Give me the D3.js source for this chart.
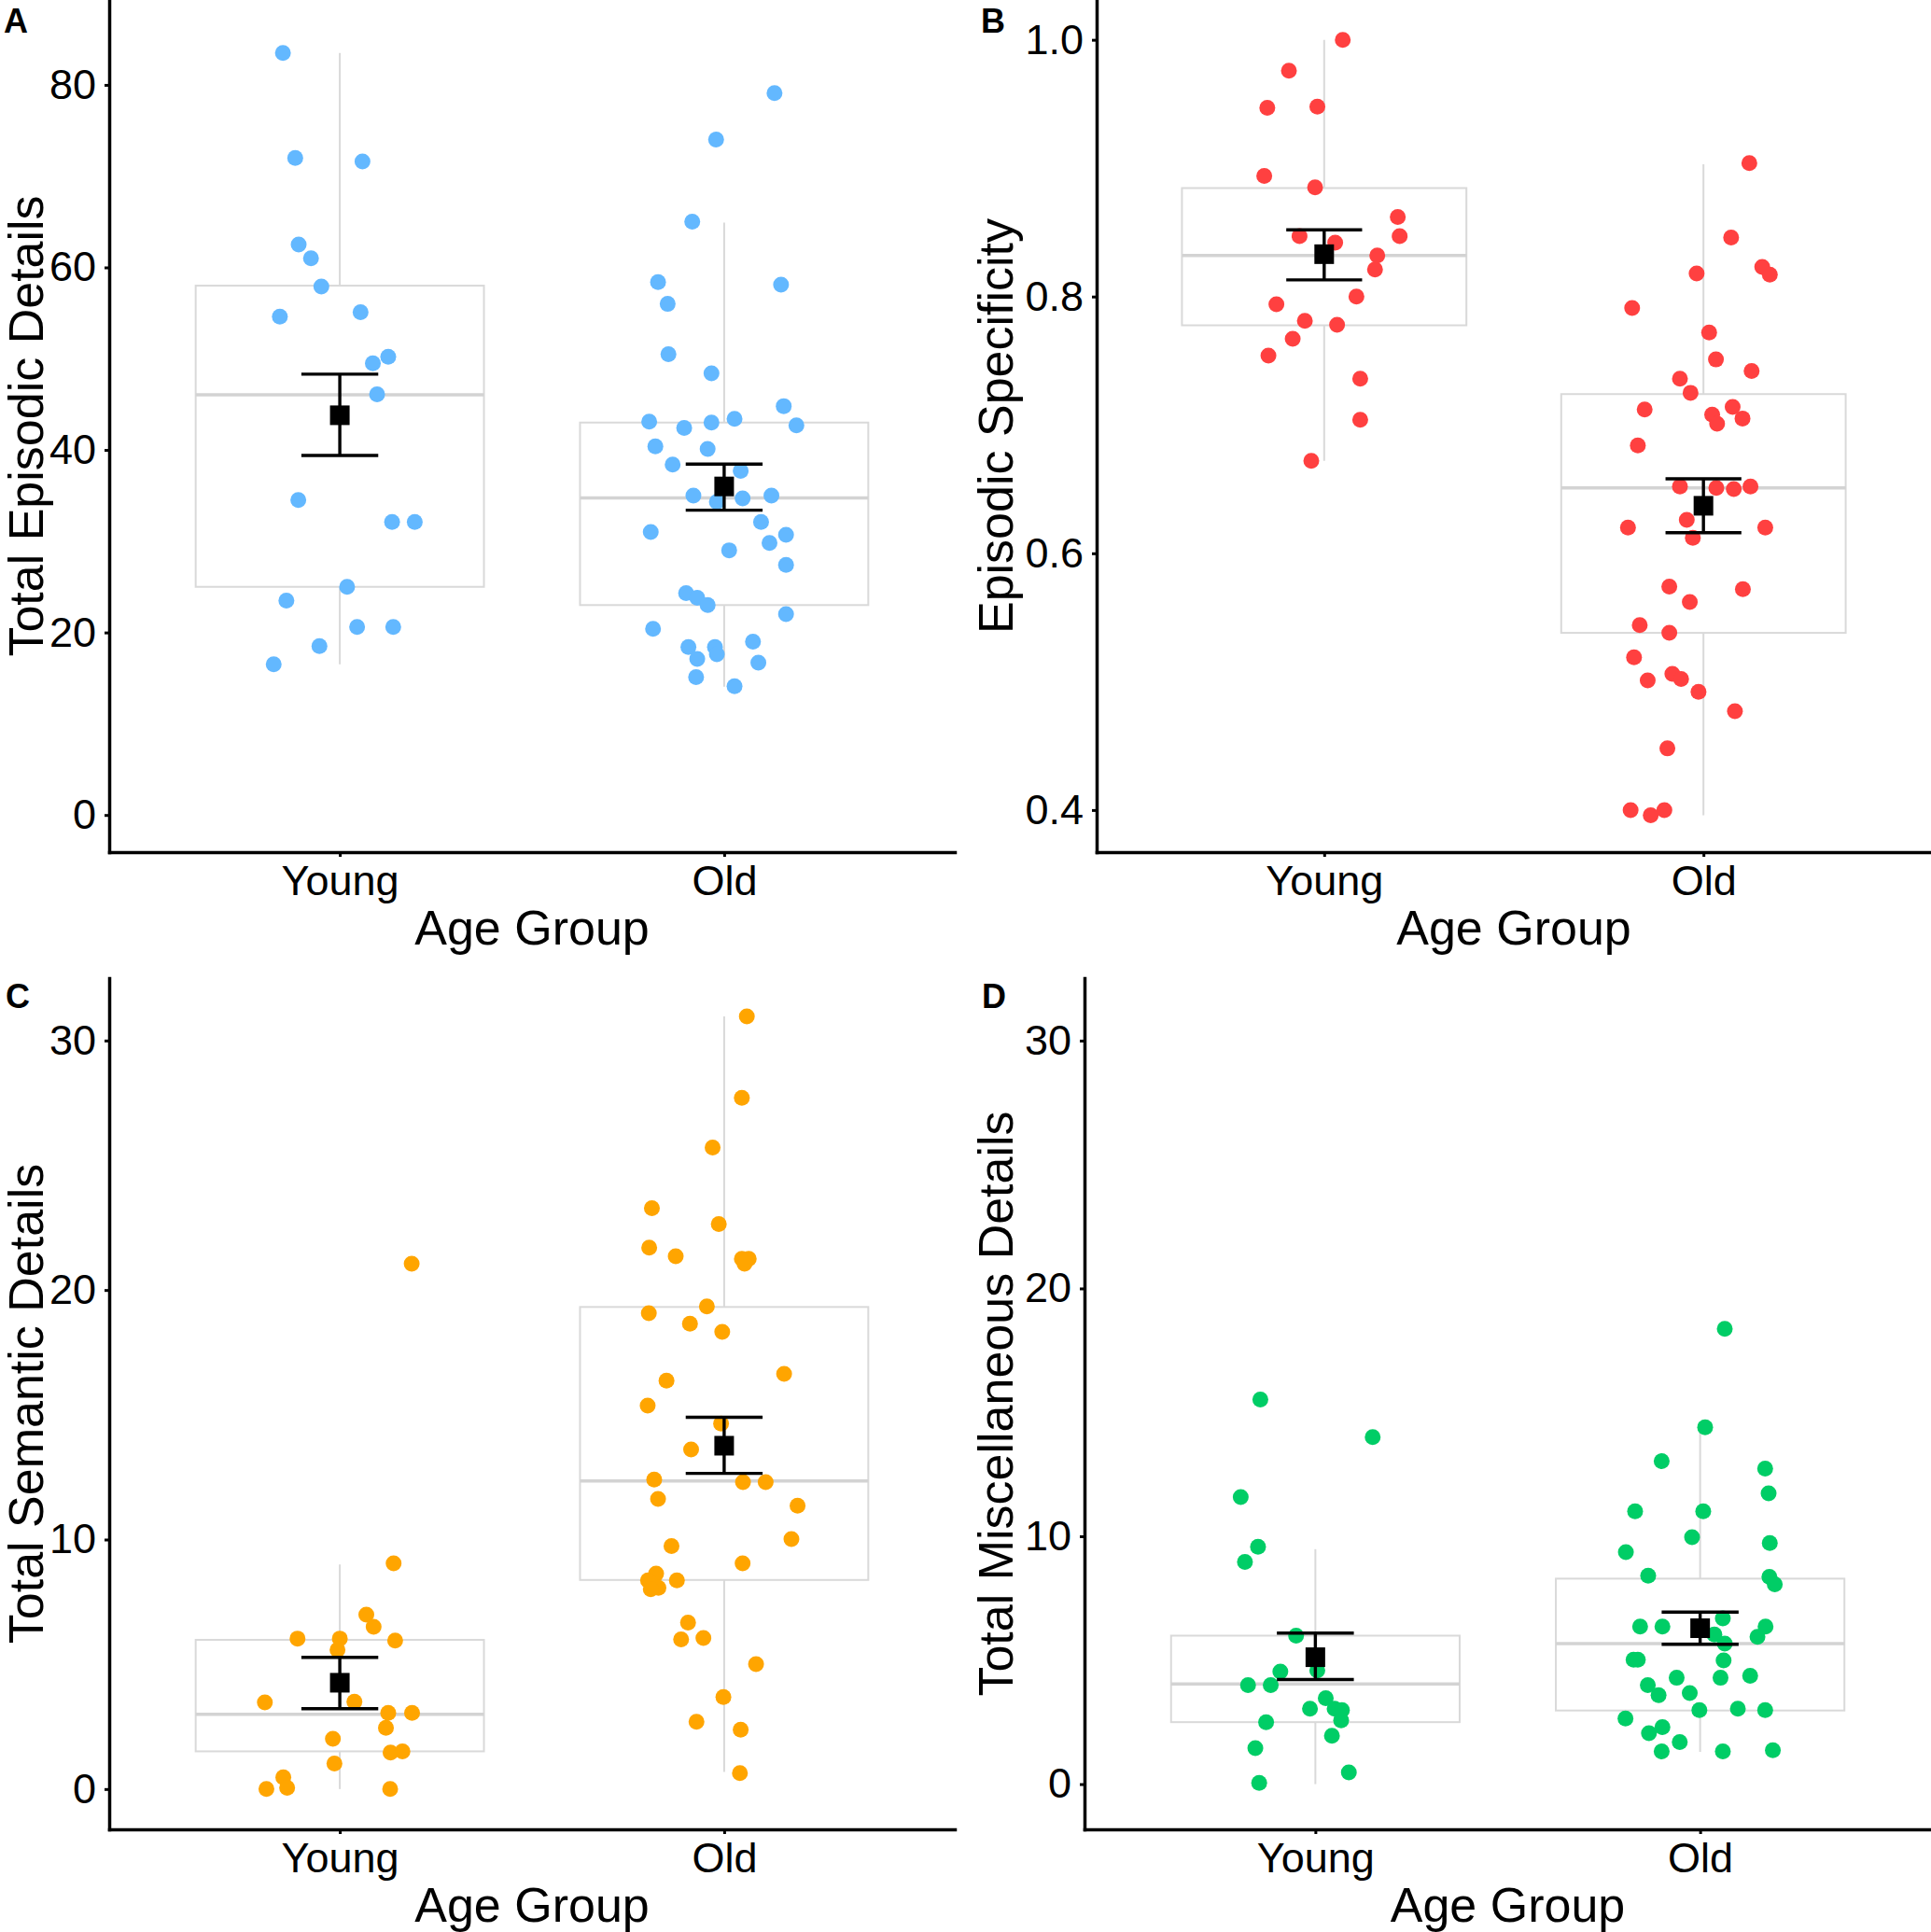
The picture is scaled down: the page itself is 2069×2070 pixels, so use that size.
<!DOCTYPE html>
<html>
<head>
<meta charset="utf-8">
<script src="https://cdn.jsdelivr.net/npm/d3@7"></script>
<style>
  body { margin: 0; background: #fff; }
  svg text { font-family: "Liberation Sans", Arial, sans-serif; fill: #000; }
</style>
</head>
<body>
<svg id="chart" width="2069" height="2070"></svg>
<script>
const groups = ["Young", "Old"];

// each point: [value, horizontal jitter in group units]
// A: total episodic details
const episodicYoung = [[83.5,-0.148],[72.0,-0.116],[71.6,0.059],[62.5,-0.107],[61.0,-0.075],[57.9,-0.048],[54.6,-0.156],[55.1,0.054],[50.2,0.126],[49.5,0.086],[46.1,0.097],[34.5,-0.108],[32.1,0.136],[32.1,0.195],[25.0,0.019],[23.5,-0.139],[20.6,0.045],[20.6,0.139],[18.5,-0.053],[16.5,-0.172]];
const episodicOld = [[79.1,0.131],[74.0,-0.021],[65.0,-0.083],[58.4,-0.172],[58.1,0.148],[56.0,-0.147],[50.5,-0.145],[48.4,-0.033],[44.8,0.155],[43.1,-0.195],[42.4,-0.104],[43.0,-0.033],[43.4,0.027],[42.7,0.188],[40.4,-0.179],[40.1,-0.043],[38.4,-0.134],[37.7,0.043],[35.0,-0.080],[34.3,-0.019],[34.7,0.048],[35.0,0.123],[32.1,0.096],[31.0,-0.191],[30.7,0.161],[29.8,0.118],[29.0,0.013],[27.4,0.161],[24.3,-0.099],[23.8,-0.070],[23.0,-0.043],[22.0,0.161],[20.4,-0.185],[18.4,-0.093],[18.4,-0.024],[19.0,0.075],[17.6,-0.019],[17.1,-0.070],[16.7,0.089],[15.1,-0.073],[14.1,0.027]];
const episodicBox = [{lo:16.5,q1:25.0,med:46.05,q3:58.0,hi:83.5},{lo:14.05,q1:23.0,med:34.75,q3:43.0,hi:64.9}];
const episodicMean = [{mean:43.8,lo:39.4,hi:48.3},{mean:36.0,lo:33.4,hi:38.45}];

// B: episodic specificity
const specYoung = [[1.000,0.049],[0.976,-0.093],[0.947,-0.150],[0.948,-0.018],[0.894,-0.158],[0.885,-0.024],[0.862,0.194],[0.847,-0.065],[0.842,0.029],[0.847,0.199],[0.832,0.140],[0.821,0.134],[0.800,0.085],[0.794,-0.126],[0.781,-0.051],[0.778,0.034],[0.767,-0.083],[0.754,-0.147],[0.736,0.095],[0.704,0.095],[0.672,-0.034]];
const specOld = [[0.904,0.121],[0.846,0.073],[0.818,-0.018],[0.823,0.155],[0.817,0.175],[0.791,-0.188],[0.772,0.015],[0.751,0.033],[0.742,0.127],[0.736,-0.062],[0.725,-0.034],[0.712,-0.155],[0.708,0.023],[0.714,0.077],[0.705,0.103],[0.701,0.036],[0.684,-0.173],[0.652,-0.062],[0.651,0.034],[0.650,0.080],[0.652,0.124],[0.620,-0.199],[0.626,-0.044],[0.612,-0.028],[0.620,0.163],[0.574,-0.090],[0.572,0.104],[0.562,-0.036],[0.544,-0.168],[0.538,-0.090],[0.519,-0.183],[0.501,-0.147],[0.506,-0.082],[0.502,-0.059],[0.492,-0.013],[0.477,0.083],[0.448,-0.095],[0.400,-0.192],[0.396,-0.139],[0.400,-0.103]];
const specBox = [{lo:0.672,q1:0.7776,med:0.832,q3:0.8845,hi:1.0},{lo:0.396,q1:0.538,med:0.651,q3:0.724,hi:0.903}];
const specMean = [{mean:0.833,lo:0.813,hi:0.852},{mean:0.637,lo:0.616,hi:0.658}];

// C: total semantic details
const semanticYoung = [[21.05,0.187],[9.05,0.140],[6.99,0.069],[6.50,0.088],[6.03,-0.110],[6.03,0.000],[5.95,0.144],[5.58,-0.006],[3.47,-0.195],[3.50,0.038],[3.05,0.126],[3.05,0.188],[2.45,0.120],[2.01,-0.018],[1.46,0.132],[1.51,0.163],[1.02,-0.014],[0.47,-0.147],[0,-0.191],[0.05,-0.137],[0,0.131]];
const semanticOld = [[30.97,0.059],[27.70,0.046],[25.71,-0.030],[23.28,-0.188],[22.64,-0.014],[21.70,-0.195],[21.35,-0.126],[21.25,0.046],[21.25,0.064],[21.05,0.053],[19.07,-0.196],[19.34,-0.045],[18.65,-0.089],[18.32,-0.005],[16.64,0.156],[16.37,-0.150],[15.37,-0.199],[14.65,-0.008],[13.61,-0.086],[12.40,-0.182],[12.30,0.049],[12.30,0.108],[11.63,-0.172],[11.36,0.191],[10.02,0.175],[9.74,-0.137],[9.05,0.048],[8.63,-0.177],[8.36,-0.123],[8.36,-0.198],[8.06,-0.171],[8.01,-0.191],[6.67,-0.094],[6.00,-0.112],[6.05,-0.054],[5.01,0.083],[3.69,-0.002],[2.70,-0.072],[2.38,0.043],[0.64,0.041]];
const semanticBox = [{lo:0,q1:1.51,med:3.0,q3:5.98,hi:9.0},{lo:0.69,q1:8.38,med:12.35,q3:19.32,hi:30.97}];
const semanticMean = [{mean:4.26,lo:3.22,hi:5.28},{mean:13.76,lo:12.65,hi:14.9}];

// D: total miscellaneous details
const miscYoung = [[15.52,-0.143],[14.00,0.149],[11.58,-0.194],[9.58,-0.149],[8.96,-0.183],[5.99,-0.050],[4.54,-0.091],[4.59,0.005],[3.99,-0.175],[3.99,-0.116],[3.47,0.027],[3.04,-0.014],[3.04,0.050],[2.99,0.069],[2.50,-0.128],[2.57,0.067],[1.95,0.043],[1.45,-0.156],[0.47,0.087],[0.05,-0.146]];
const miscOld = [[18.37,0.064],[14.40,0.013],[13.03,-0.100],[12.73,0.169],[11.73,0.178],[11.01,-0.169],[11.01,0.008],[9.96,-0.021],[9.73,0.181],[9.36,-0.193],[8.41,-0.135],[8.36,0.180],[8.06,0.194],[6.36,-0.156],[6.36,-0.098],[6.69,0.059],[6.36,0.170],[6.04,0.037],[5.94,0.149],[5.67,0.064],[5.02,-0.173],[5.02,-0.162],[4.99,0.061],[4.29,-0.061],[4.29,0.053],[4.37,0.130],[3.99,-0.136],[3.59,-0.108],[3.67,-0.027],[2.99,-0.002],[3.04,0.098],[2.99,0.169],[2.65,-0.194],[2.05,-0.133],[2.30,-0.098],[1.70,-0.053],[1.32,-0.100],[1.32,0.059],[1.37,0.189]];
const miscBox = [{lo:0,q1:2.50,med:4.04,q3:5.99,hi:9.48},{lo:1.30,q1:2.97,med:5.67,q3:8.29,hi:14.22}];
const miscMean = [{mean:5.12,lo:4.22,hi:6.09},{mean:6.29,lo:5.64,hi:6.94}];

const svg = d3.select("#chart");

// layout of the four panels
const panels = [
  { letter: "A", lx: 4, ly: 35, title: "Total Episodic Details", titleX: 46,
    left: 117, right: 1023, top: 0, bottom: 913, yDomain: [-4.07, 89.3],
    ticks: [0, 20, 40, 60, 80], fmt: d3.format("d"), color: "#63B8FF",
    young: episodicYoung, old: episodicOld, box: episodicBox, mean: episodicMean },
  { letter: "B", lx: 1051, ly: 35, title: "Episodic Specificity", titleX: 1085,
    left: 1175, right: 2069, top: 0, bottom: 913, yDomain: [0.3672, 1.031],
    ticks: [0.4, 0.6, 0.8, 1.0], fmt: d3.format(".1f"), color: "#FF4040",
    young: specYoung, old: specOld, box: specBox, mean: specMean },
  { letter: "C", lx: 6, ly: 1080, title: "Total Semantic Details", titleX: 46,
    left: 117, right: 1023, top: 1048, bottom: 1960, yDomain: [-1.615, 32.5],
    ticks: [0, 10, 20, 30], fmt: d3.format("d"), color: "#FFA500",
    young: semanticYoung, old: semanticOld, box: semanticBox, mean: semanticMean },
  { letter: "D", lx: 1052, ly: 1080, title: "Total Miscellaneous Details", titleX: 1085,
    left: 1162, right: 2069, top: 1048, bottom: 1960, yDomain: [-1.825, 32.52],
    ticks: [0, 10, 20, 30], fmt: d3.format("d"), color: "#00CD66",
    young: miscYoung, old: miscOld, box: miscBox, mean: miscMean }
];

function drawPanel(p) {
  let g = svg.append("g");
  let x = d3.scaleLinear().domain([0.4, 2.6]).range([p.left, p.right]);
  let y = d3.scaleLinear().domain(p.yDomain).range([p.bottom, p.top]);

  // boxplots (behind everything)
  p.box.forEach((b, i) => {
    let c = i + 1;
    g.append("line")
      .attr("x1", x(c)).attr("x2", x(c))
      .attr("y1", y(b.hi)).attr("y2", y(b.lo))
      .attr("stroke", "#d9d9d9").attr("stroke-width", 2);
    g.append("rect")
      .attr("x", x(c - 0.375))
      .attr("width", x(c + 0.375) - x(c - 0.375))
      .attr("y", y(b.q3))
      .attr("height", y(b.q1) - y(b.q3))
      .attr("fill", "#fff")
      .attr("stroke", "#d9d9d9").attr("stroke-width", 2);
    g.append("line")
      .attr("x1", x(c - 0.375)).attr("x2", x(c + 0.375))
      .attr("y1", y(b.med)).attr("y2", y(b.med))
      .attr("stroke", "#d3d3d3").attr("stroke-width", 3.5);
  });

  // jittered points
  [p.young, p.old].forEach((pts, i) => {
    g.append("g").selectAll("circle")
      .data(pts)
      .join("circle")
      .attr("cx", d => x(i + 1 + d[1]))
      .attr("cy", d => y(d[0]))
      .attr("r", 8.5)
      .attr("fill", p.color);
  });

  // mean +/- SE
  p.mean.forEach((m, i) => {
    let c = i + 1;
    let eb = g.append("g").attr("stroke", "#000").attr("stroke-width", 3.4);
    eb.append("line").attr("x1", x(c)).attr("x2", x(c)).attr("y1", y(m.hi)).attr("y2", y(m.lo));
    eb.append("line").attr("x1", x(c - 0.1)).attr("x2", x(c + 0.1)).attr("y1", y(m.hi)).attr("y2", y(m.hi));
    eb.append("line").attr("x1", x(c - 0.1)).attr("x2", x(c + 0.1)).attr("y1", y(m.lo)).attr("y2", y(m.lo));
    g.append("rect")
      .attr("x", x(c) - 10.5).attr("y", y(m.mean) - 10.5)
      .attr("width", 21).attr("height", 21)
      .attr("fill", "#000");
  });

  // y axis
  let ya = g.append("g")
    .attr("transform", "translate(" + p.left + ",0)")
    .call(d3.axisLeft(y).tickValues(p.ticks).tickFormat(p.fmt)
      .tickSize(5).tickSizeOuter(0).tickPadding(9));
  // x axis
  let xa = g.append("g")
    .attr("transform", "translate(0," + p.bottom + ")")
    .call(d3.axisBottom(x).tickValues([1, 2]).tickFormat(d => groups[d - 1])
      .tickSize(5).tickSizeOuter(0).tickPadding(9));
  [ya, xa].forEach(a => {
    a.select(".domain").attr("stroke", "#000").attr("stroke-width", 3.5).attr("stroke-linecap", "square");
    a.selectAll(".tick line").attr("stroke", "#000").attr("stroke-width", 3);
    a.selectAll(".tick text").style("font-size", "45px").attr("fill", "#000");
  });

  // axis titles
  g.append("text")
    .attr("x", (p.left + p.right) / 2)
    .attr("y", p.bottom + 99)
    .attr("text-anchor", "middle")
    .style("font-size", "52px")
    .text("Age Group");
  g.append("text")
    .attr("transform", "translate(" + p.titleX + ", " + ((p.top + p.bottom) / 2) + ") rotate(-90)")
    .attr("text-anchor", "middle")
    .style("font-size", "52px")
    .text(p.title);

  // panel letter
  g.append("text")
    .attr("x", p.lx).attr("y", p.ly)
    .style("font-size", "36px").style("font-weight", "bold")
    .text(p.letter);
}

panels.forEach(drawPanel);
</script>
</body>
</html>
